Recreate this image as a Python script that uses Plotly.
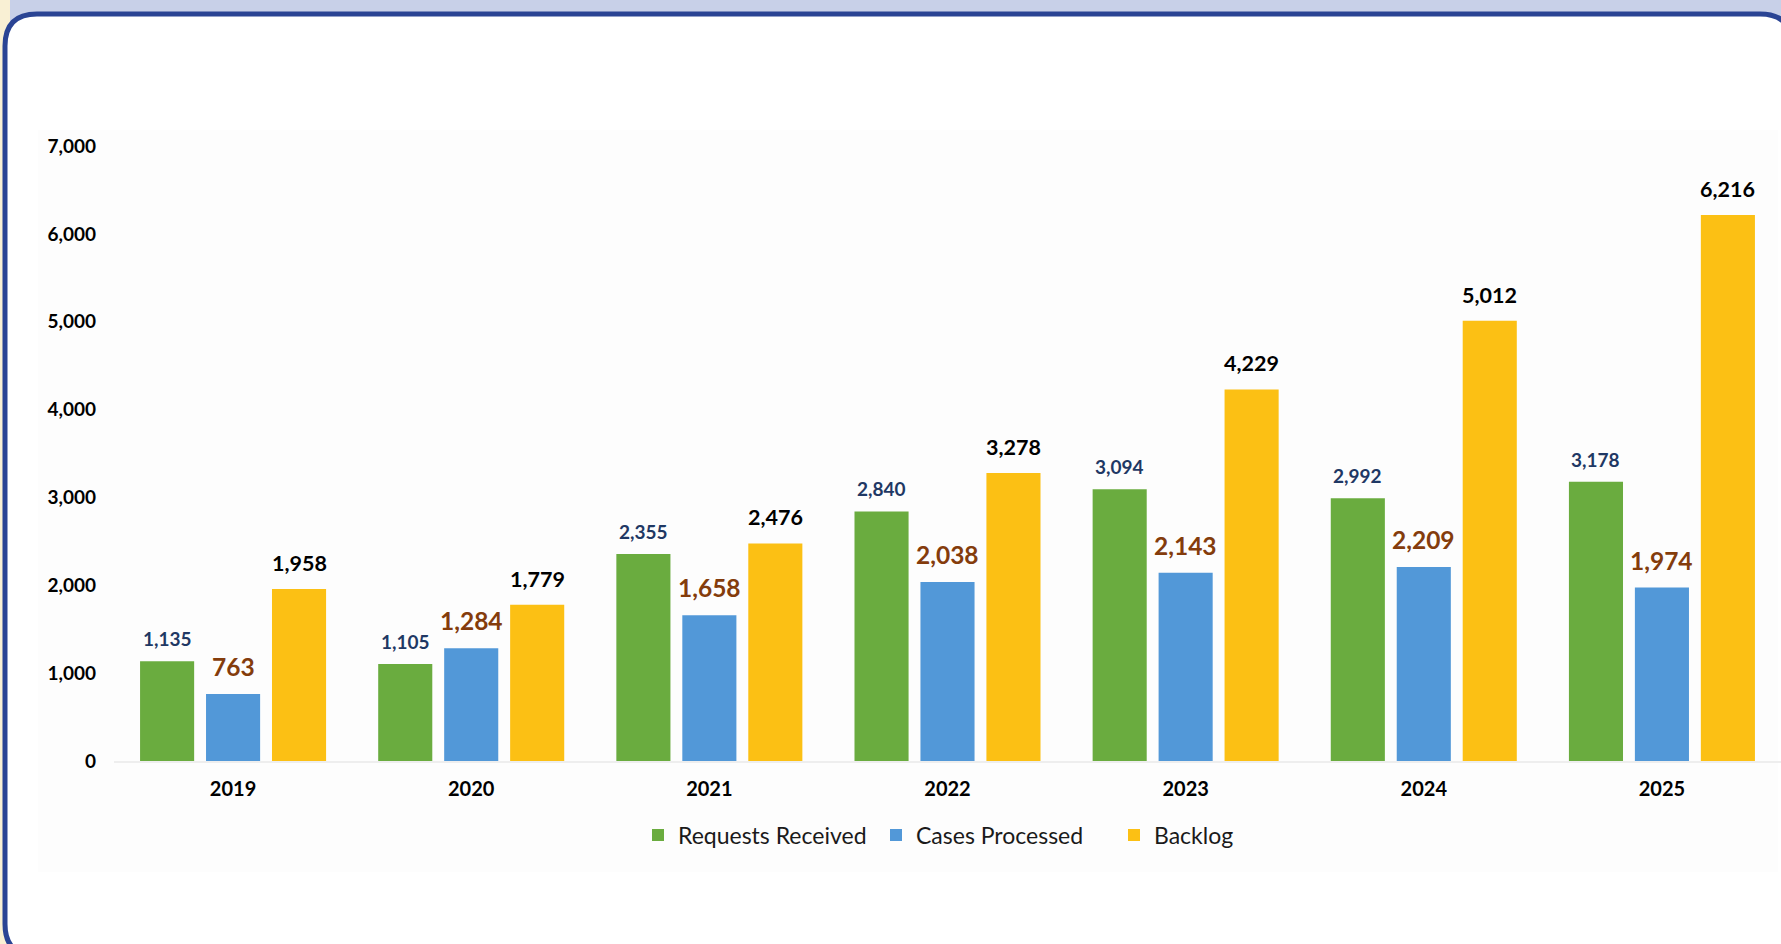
import plotly.graph_objects as go

years = ["2019", "2020", "2021", "2022", "2023", "2024", "2025"]
requests_received = [1135, 1105, 2355, 2840, 3094, 2992, 3178]
cases_processed = [763, 1284, 1658, 2038, 2143, 2209, 1974]
backlog = [1958, 1779, 2476, 3278, 4229, 5012, 6216]

W, H = 1781, 944
ML, MR, MT, MB = 114, 0, 146, 183
PW, PH = W - ML - MR, H - MT - MB


def px(x):
    return (x - ML) / PW


def py(y):
    return (H - MB - y) / PH


FONT = "Lato"

series = [
    ("Requests Received", requests_received, "#6aac3f", "#1f3864", 19, 9),
    ("Cases Processed", cases_processed, "#5298d8", "#843c0c", 24.5, 11),
    ("Backlog", backlog, "#fcc014", "#000000", 21.5, 11),
]

fig = go.Figure()
for name, vals, col, _, _, _ in series:
    fig.add_trace(go.Bar(
        x=years, y=vals, name=name,
        marker=dict(color=col, line=dict(width=0)),
    ))

bargap = 0.169
slot = PW / len(years) * (1 - bargap) / 3
annotations = []
for i, (name, vals, col, tcol, fsize, ys) in enumerate(series):
    for j, v in enumerate(vals):
        annotations.append(dict(
            x=j, y=v, xref="x", yref="y", text=f"{v:,}", showarrow=False,
            xshift=(i - 1) * slot, yshift=ys, yanchor="bottom",
            font=dict(family=FONT, size=fsize, color=tcol, weight="bold"),
        ))

# rounded border path in paper coords
L, T, R, B, r = 5, 14, 1792, 956, 32
path = (f"M {px(L)},{py(T + r)} Q {px(L)},{py(T)} {px(L + r)},{py(T)} "
        f"L {px(R - r)},{py(T)} Q {px(R)},{py(T)} {px(R)},{py(T + r)} "
        f"L {px(R)},{py(B - r)} Q {px(R)},{py(B)} {px(R - r)},{py(B)} "
        f"L {px(L + r)},{py(B)} Q {px(L)},{py(B)} {px(L)},{py(B - r)} Z")

shapes = [
    dict(type="rect", xref="paper", yref="paper", x0=px(0), x1=px(W), y0=py(0), y1=py(40),
         fillcolor="#c8d0e8", line=dict(width=0), layer="below"),
    dict(type="rect", xref="paper", yref="paper", x0=px(0), x1=px(10), y0=py(0), y1=py(H),
         fillcolor="#f9f0d4", line=dict(width=0), layer="below"),
    dict(type="path", xref="paper", yref="paper", path=path, fillcolor="#ffffff",
         line=dict(color="#2a4494", width=5), layer="below"),
    dict(type="rect", xref="paper", yref="paper", x0=px(38), x1=px(1778), y0=py(130), y1=py(872),
         fillcolor="#fdfdfd", line=dict(width=0), layer="below"),
]

fig.update_layout(
    width=W, height=H,
    margin=dict(l=ML, r=MR, t=MT, b=MB, pad=0),
    paper_bgcolor="#ffffff", plot_bgcolor="rgba(0,0,0,0)",
    barmode="group", bargap=bargap, bargroupgap=0.18,
    font=dict(family=FONT, color="#000000"),
    showlegend=True,
    legend=dict(orientation="h", x=px(638), xanchor="left", y=py(835), yanchor="middle",
                font=dict(family=FONT, size=23, color="#1a1a1a"), bgcolor="rgba(0,0,0,0)",
                itemwidth=30, tracegroupgap=0, entrywidth=193, entrywidthmode="pixels"),
    xaxis=dict(type="category", showgrid=False, zeroline=False, showline=True,
               linecolor="#eeeeee", linewidth=2, ticks="", ticklabelstandoff=9,
               tickfont=dict(family=FONT, size=20, color="#000000", weight="bold")),
    yaxis=dict(range=[0, 7000], dtick=1000, tickformat=",", showgrid=False, zeroline=False,
               showline=False, ticks="", ticklabelstandoff=17,
               tickfont=dict(family=FONT, size=19, color="#000000", weight="bold")),
    annotations=annotations,
    shapes=shapes,
)

fig.write_html("out.html", config={"displayModeBar": False},
               post_script="document.body.style.margin='0';")
